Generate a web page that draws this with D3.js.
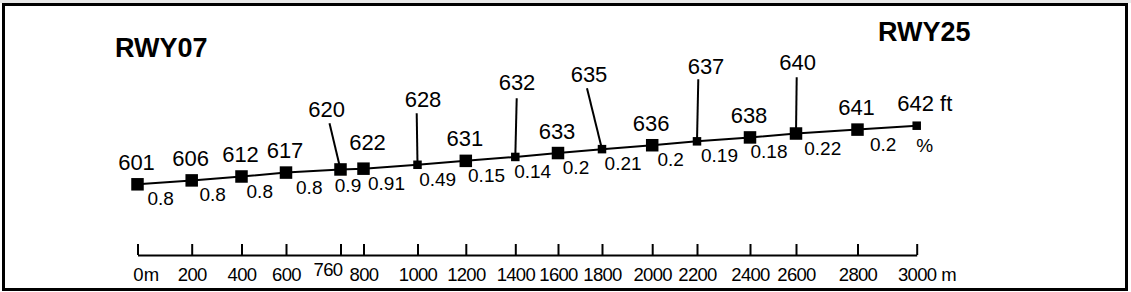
<!DOCTYPE html>
<html>
<head>
<meta charset="utf-8">
<script src="https://cdn.jsdelivr.net/npm/d3@7"></script>
<style>
  html, body { margin: 0; padding: 0; background: #ffffff; }
  svg { display: block; }
  text { font-family: "Liberation Sans", Arial, sans-serif; fill: #000; }
</style>
</head>
<body>
<svg id="chart" width="1131" height="292"></svg>
<script>
// ---------------- data ----------------
const distances  = [0, 200, 400, 600, 760, 800, 1000, 1200, 1400, 1600, 1800, 2000, 2200, 2400, 2600, 2800, 3000];
const elevations = [601, 606, 612, 617, 620, 622, 628, 631, 632, 633, 635, 636, 637, 638, 640, 641, 642];
const grades     = [0.8, 0.8, 0.8, 0.8, 0.9, 0.91, 0.49, 0.15, 0.14, 0.2, 0.21, 0.2, 0.19, 0.18, 0.22, 0.2];
const pointKinds = ["major","major","major","major","major","major","minor","major","minor","major","minor","major","minor","major","major","major","minor"];
const tickValues = [0, 200, 400, 600, 760, 800, 1000, 1200, 1400, 1600, 1800, 2000, 2200, 2400, 2600, 2800, 3000];
const tickLabels = ["0", "200", "400", "600", "760", "800", "1000", "1200", "1400", "1600", "1800", "2000", "2200", "2400", "2600", "2800", "3000"];
const runwayNames = ["RWY07", "RWY25"];
const distanceUnit = "m";
const elevationUnit = "ft";
const gradeUnit = "%";

// ---------------- layout ----------------
const W = 1131, H = 292;
// schematic (non-uniform) distance axis
const xRange = [137.5, 191.7, 241.5, 286, 340.5, 363.5, 417.5, 465.8, 515.3, 558, 602, 652.2, 697, 750, 796, 857.5, 916.7];
const x = d3.scaleLinear().domain(tickValues).range(xRange);
// schematic gradient line: height on drawing grows steadily along the runway
const y = d3.scaleLinear().domain([0, 3000]).range([184.3, 125.7]);
const axisY = 255;
const tickPad = 12.5;
const axisFont = 18.5;

// label placement tweaks (leader-line labels and a few offsets)
const leaders = {
  4:  {lx: -13.8, ly: -52.8, tx: -11,  ty: -46.2},
  6:  {lx: 5.5,   ly: -58.1, tx: -0.8, ty: -51.5},
  8:  {lx: 1.7,   ly: -67,   tx: 1.4,  ty: -58.7},
  10: {lx: -13,   ly: -67.4, tx: -15,  ty: -60.8},
  12: {lx: 9,     ly: -67.3, tx: 1.3,  ty: -62},
  14: {lx: 1.7,   ly: -63.5, tx: 0.7,  ty: -56.2}
};
const labelOffsets = {5: {dx: 4, dy: -19}};
const tickLabelOffsets = {760: {dx: -13, dy: -5}};

const svg = d3.select("#chart");

// background strip and frame
svg.append("rect").attr("x", 0).attr("y", 0).attr("width", W).attr("height", H).attr("fill", "#ffffff");
svg.append("rect").attr("x", 0).attr("y", 0).attr("width", W).attr("height", 3).attr("fill", "#e8e8e8");
svg.append("rect").attr("x", 3.5).attr("y", 4.5).attr("width", 1123).attr("height", 285)
  .attr("fill", "none").attr("stroke", "#000").attr("stroke-width", 3);

// runway designators
svg.append("text").attr("x", 115).attr("y", 57).attr("font-size", 27).attr("font-weight", "bold").text(runwayNames[0]);
svg.append("text").attr("x", 878).attr("y", 40.5).attr("font-size", 27).attr("font-weight", "bold").text(runwayNames[1]);

const pts = distances.map((d, i) => ({d, e: elevations[i], kind: pointKinds[i], i}));

// profile line
svg.append("path")
  .datum(pts)
  .attr("fill", "none").attr("stroke", "#000").attr("stroke-width", 2)
  .attr("d", d3.line().x(p => x(p.d)).y(p => y(p.d)));

// leader lines
pts.forEach(p => {
  const L = leaders[p.i];
  if (!L) return;
  svg.append("line")
    .attr("x1", x(p.d) + L.tx).attr("y1", y(p.d) + L.ty)
    .attr("x2", x(p.d)).attr("y2", y(p.d))
    .attr("stroke", "#000").attr("stroke-width", 2);
});

// markers
const size = k => k === "major" ? 12.5 : 8.5;
svg.append("g").selectAll("rect").data(pts).join("rect")
  .attr("x", p => x(p.d) - size(p.kind) / 2)
  .attr("y", p => y(p.d) - size(p.kind) / 2)
  .attr("width", p => size(p.kind))
  .attr("height", p => size(p.kind))
  .attr("fill", "#000");

// elevation labels
const elevTexts = svg.append("g").selectAll("text").data(pts).join("text")
  .attr("font-size", 22)
  .attr("text-anchor", "middle")
  .attr("x", p => {
    const L = leaders[p.i], o = labelOffsets[p.i];
    return x(p.d) + (L ? L.lx : (o ? o.dx : -1));
  })
  .attr("y", p => {
    const L = leaders[p.i], o = labelOffsets[p.i];
    return y(p.d) + (L ? L.ly : (o ? o.dy : -14.5));
  })
  .text(p => p.e);

// elevation unit after the last label
{
  const nodes = elevTexts.nodes();
  const bb = nodes[nodes.length - 1].getBBox();
  const last = pts[pts.length - 1];
  svg.append("text").attr("font-size", 22)
    .attr("x", bb.x + bb.width + 6).attr("y", y(last.d) - 14.5)
    .text(elevationUnit);
}

// grade labels (between points)
const segs = grades.map((g, i) => ({g, a: distances[i], b: distances[i + 1]}));
svg.append("g").selectAll("text").data(segs).join("text")
  .attr("font-size", 19)
  .attr("text-anchor", "middle")
  .attr("x", s => (x(s.a) + x(s.b)) / 2 - 4)
  .attr("y", s => y((s.a + s.b) / 2) + 23)
  .text(s => s.g);

// grade unit
{
  const last = distances[distances.length - 1];
  svg.append("text").attr("font-size", 19).attr("text-anchor", "middle")
    .attr("x", x(last) + 8).attr("y", y(last) + 26).text(gradeUnit);
}

// distance axis
const axis = d3.axisBottom(x)
  .tickValues(tickValues)
  .tickSizeInner(-11)
  .tickSizeOuter(0)
  .tickPadding(tickPad)
  .tickFormat((d, i) => tickLabels[i]);
const ag = svg.append("g").attr("transform", `translate(0,${axisY})`).call(axis);
ag.select(".domain").attr("stroke", "#000").attr("stroke-width", 2);
ag.selectAll(".tick line").attr("stroke", "#000").attr("stroke-width", 2);
ag.selectAll(".tick text")
  .attr("font-size", axisFont)
  .attr("letter-spacing", "-0.7px")
  .attr("font-family", "\"Liberation Sans\", Arial, sans-serif")
  .attr("fill", "#000")
  .attr("dy", "0.71em")
  .attr("x", d => tickLabelOffsets[d] ? tickLabelOffsets[d].dx : 0)
  .attr("y", d => tickPad + (tickLabelOffsets[d] ? tickLabelOffsets[d].dy : 0));

// distance unit next to first and last labels
{
  const tnodes = ag.selectAll(".tick text").nodes();
  const firstB = tnodes[0].getBBox();
  const lastB = tnodes[tnodes.length - 1].getBBox();
  const ty = axisY + tickPad + 0.71 * axisFont;
  const x0 = x(tickValues[0]), x1 = x(tickValues[tickValues.length - 1]);
  svg.append("text").attr("font-size", axisFont).attr("x", x0 + firstB.x + firstB.width + 1).attr("y", ty).text(distanceUnit);
  svg.append("text").attr("font-size", axisFont).attr("x", x1 + lastB.x + lastB.width + 5).attr("y", ty).text(distanceUnit);
}
</script>
</body>
</html>
